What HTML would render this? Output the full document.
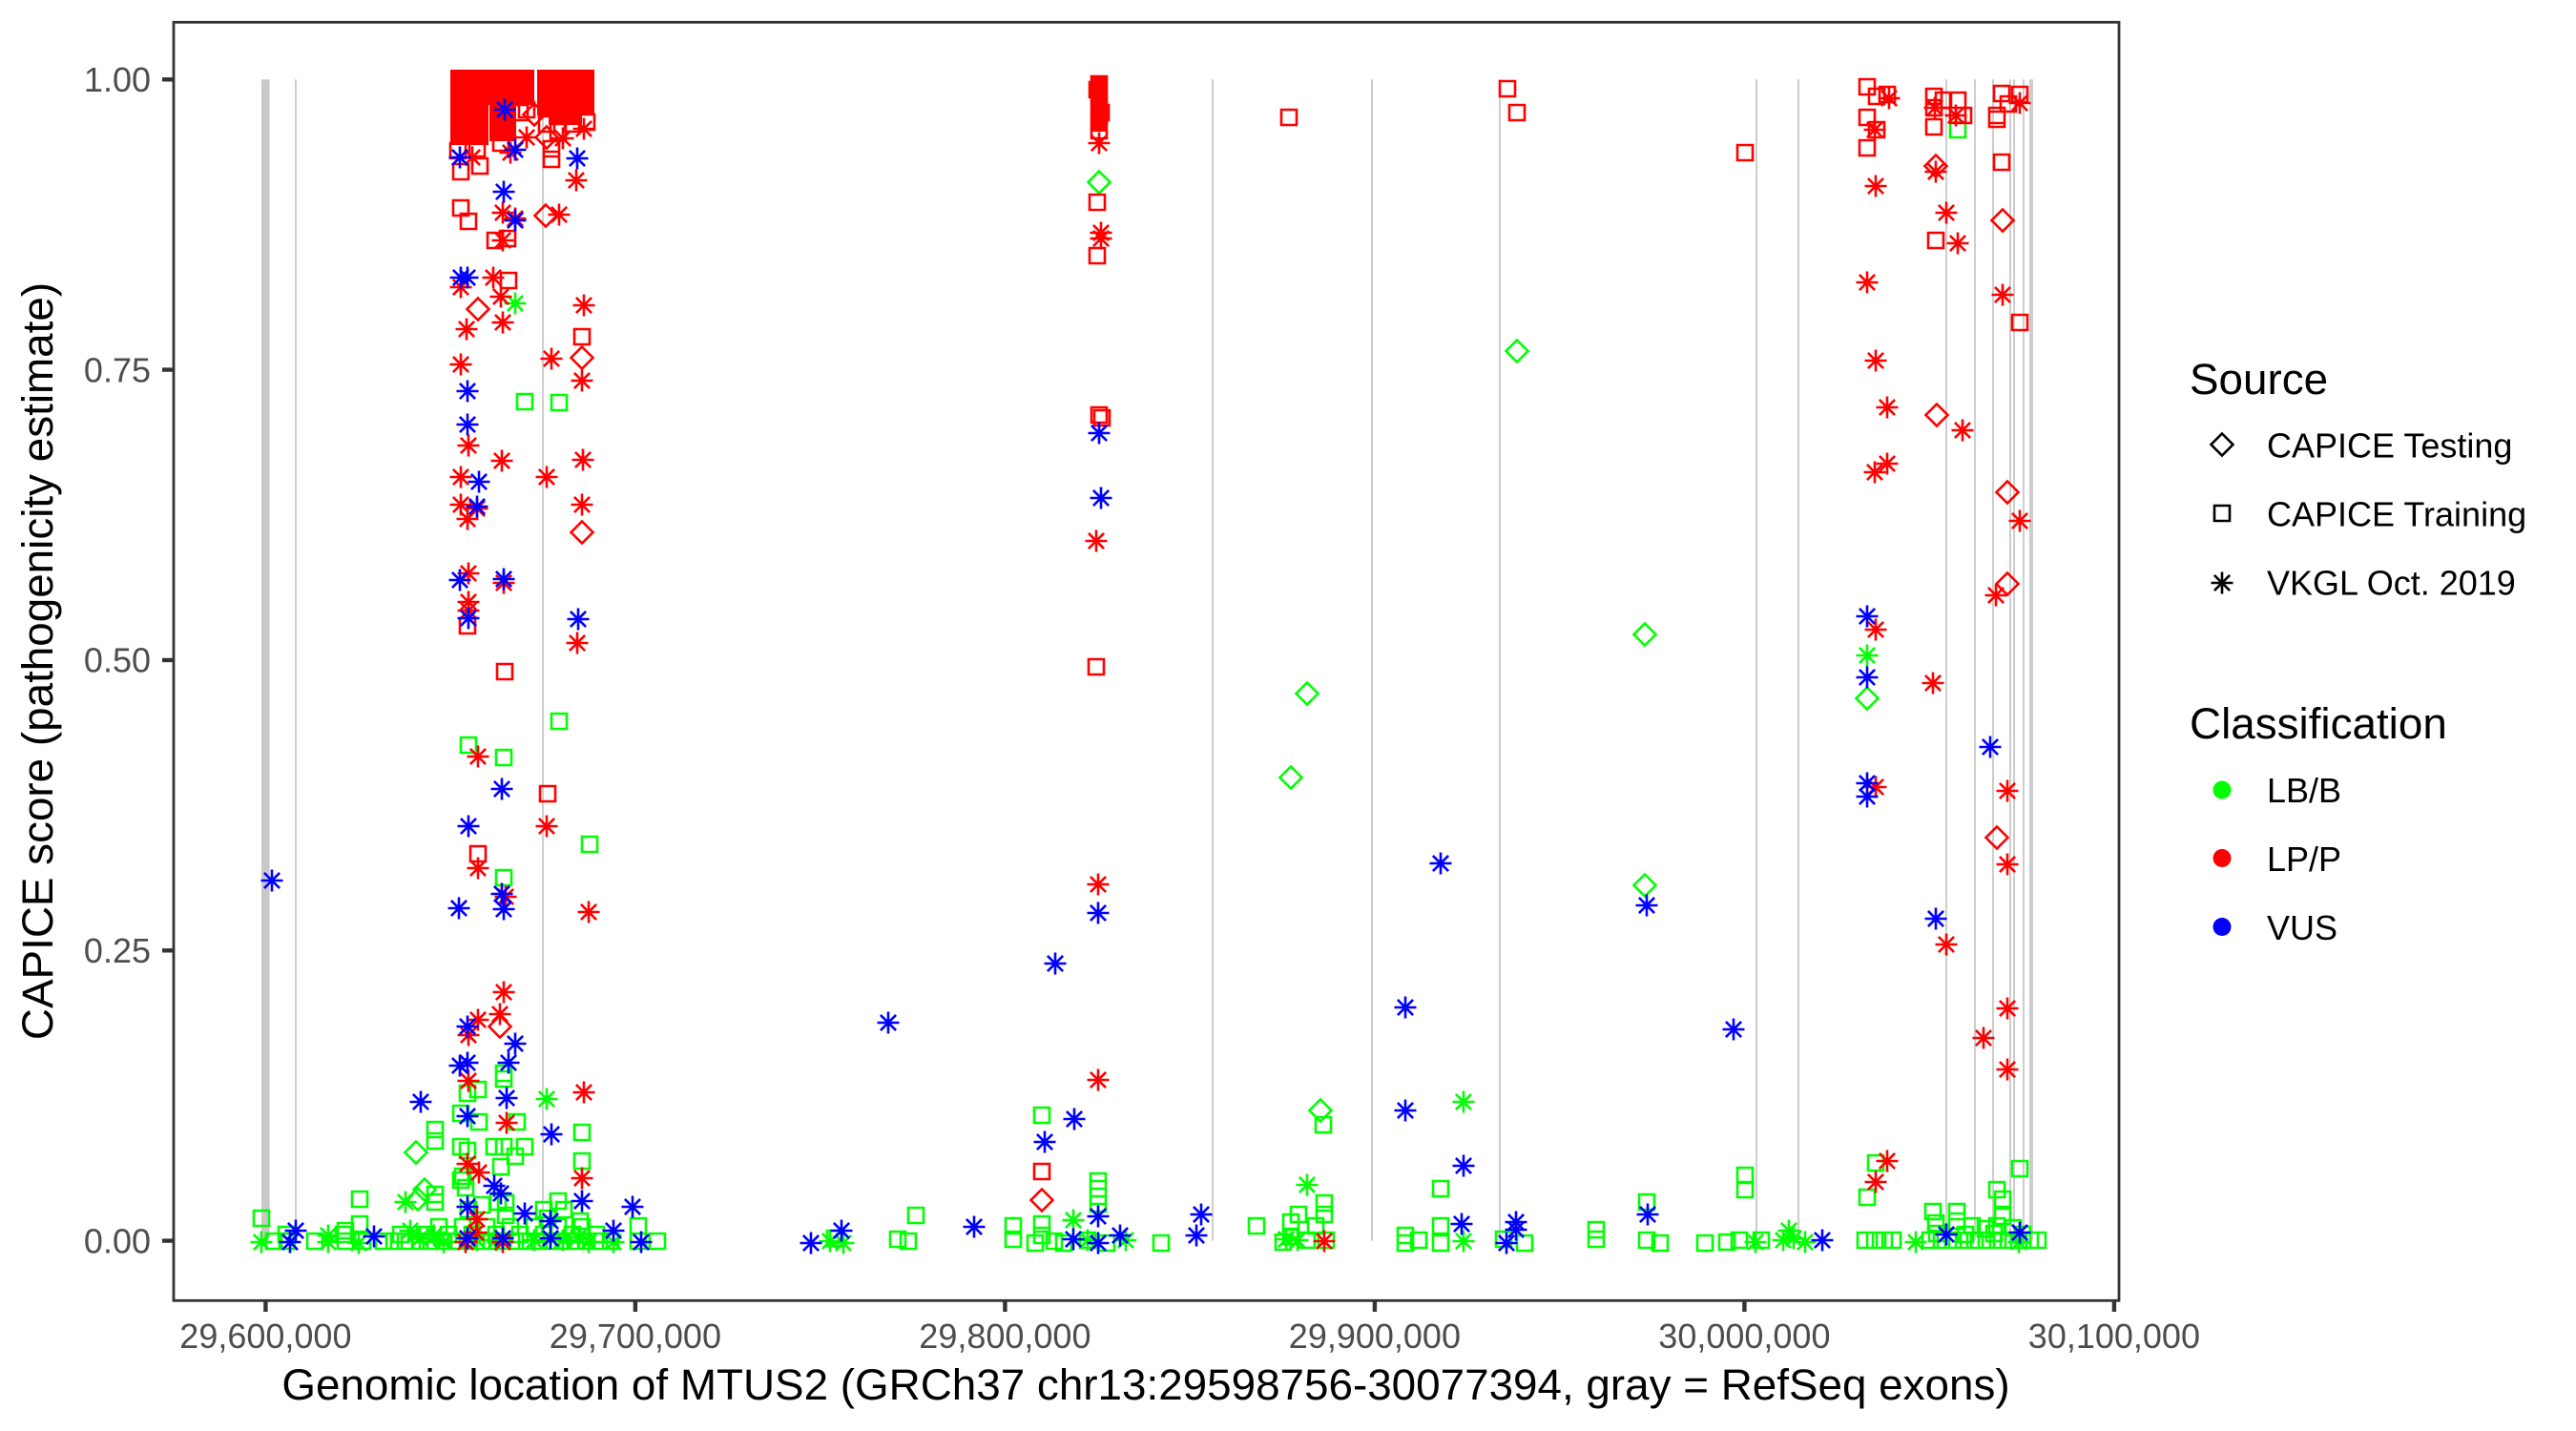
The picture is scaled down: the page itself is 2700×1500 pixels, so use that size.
<!DOCTYPE html>
<html><head><meta charset="utf-8"><style>
html,body{margin:0;padding:0;background:#fff;}
svg{display:block;}
text{font-family:"Liberation Sans",Arial,sans-serif;}
</style></head><body>
<svg xmlns="http://www.w3.org/2000/svg" width="2700" height="1500" viewBox="0 0 2700 1500">
<rect x="0" y="0" width="2700" height="1500" fill="#fff"/>
<!-- exons -->
<rect x="274" y="83.3" width="8.6" height="1217.3" fill="#c8c8c8"/>
<g stroke="#cdcdcd" stroke-width="2">
<path d="M310 83.3V1300.6M569 83.3V1300.6M1271 83.3V1300.6M1438 83.3V1300.6M1572 83.3V1300.6M1841 83.3V1300.6M1885 83.3V1300.6M2040 83.3V1300.6M2070 83.3V1300.6M2089 83.3V1300.6M2107 83.3V1300.6M2111 83.3V1300.6M2121 83.3V1300.6M2128 83.3V1300.6M2130 83.3V1300.6"/>
</g>
<g fill="none" stroke-width="2.6">
<!-- GREEN -->
<path stroke="#00ff00" d="M287 1301m-8-8h16v16h-16zM301 1301m-8-8h16v16h-16zM330 1301m-8-8h16v16h-16zM362 1301m-8-8h16v16h-16zM380 1301m-8-8h16v16h-16zM402 1301m-8-8h16v16h-16zM413 1301m-8-8h16v16h-16zM425 1301m-8-8h16v16h-16zM440 1301m-8-8h16v16h-16zM452 1301m-8-8h16v16h-16zM465 1301m-8-8h16v16h-16zM478 1301m-8-8h16v16h-16zM490 1301m-8-8h16v16h-16zM505 1301m-8-8h16v16h-16zM515 1301m-8-8h16v16h-16zM527 1301m-8-8h16v16h-16zM540 1301m-8-8h16v16h-16zM552 1301m-8-8h16v16h-16zM565 1301m-8-8h16v16h-16zM578 1301m-8-8h16v16h-16zM590 1301m-8-8h16v16h-16zM603 1301m-8-8h16v16h-16zM615 1301m-8-8h16v16h-16zM628 1301m-8-8h16v16h-16zM640 1301m-8-8h16v16h-16zM669 1301m-8-8h16v16h-16zM689 1301m-8-8h16v16h-16zM300 1294m-8-8h16v16h-16zM360 1294m-8-8h16v16h-16zM420 1294m-8-8h16v16h-16zM445 1294m-8-8h16v16h-16zM470 1294m-8-8h16v16h-16zM495 1294m-8-8h16v16h-16zM520 1294m-8-8h16v16h-16zM545 1294m-8-8h16v16h-16zM570 1294m-8-8h16v16h-16zM600 1294m-8-8h16v16h-16zM625 1294m-8-8h16v16h-16zM460 1286m-8-8h16v16h-16zM485 1286m-8-8h16v16h-16zM510 1286m-8-8h16v16h-16zM535 1286m-8-8h16v16h-16zM560 1286m-8-8h16v16h-16zM585 1286m-8-8h16v16h-16zM610 1286m-8-8h16v16h-16zM274 1277m-8-8h16v16h-16zM362 1290m-8-8h16v16h-16zM377 1283m-8-8h16v16h-16zM377 1257m-8-8h16v16h-16zM456 1252m-8-8h16v16h-16zM456 1260m-8-8h16v16h-16zM456 1184m-8-8h16v16h-16zM456 1196m-8-8h16v16h-16zM483 1202m-8-8h16v16h-16zM490 1206m-8-8h16v16h-16zM518 1202m-8-8h16v16h-16zM528 1202m-8-8h16v16h-16zM550 1202m-8-8h16v16h-16zM540 1212m-8-8h16v16h-16zM525 1223m-8-8h16v16h-16zM610 1217m-8-8h16v16h-16zM483 1237m-8-8h16v16h-16zM488 1245m-8-8h16v16h-16zM485 1233m-8-8h16v16h-16zM491 1268m-8-8h16v16h-16zM505 1263m-8-8h16v16h-16zM522 1260m-8-8h16v16h-16zM530 1261m-8-8h16v16h-16zM530 1274m-8-8h16v16h-16zM570 1268m-8-8h16v16h-16zM585 1259m-8-8h16v16h-16zM574 1277m-8-8h16v16h-16zM591 1268m-8-8h16v16h-16zM608 1280m-8-8h16v16h-16zM669 1285m-8-8h16v16h-16zM610 1187m-8-8h16v16h-16zM542 1176m-8-8h16v16h-16zM483 1167m-8-8h16v16h-16zM502 1176m-8-8h16v16h-16zM501 1142m-8-8h16v16h-16zM490 1146m-8-8h16v16h-16zM528 1125m-8-8h16v16h-16zM528 1131m-8-8h16v16h-16zM528 920m-8-8h16v16h-16zM491 781m-8-8h16v16h-16zM528 794m-8-8h16v16h-16zM586 756m-8-8h16v16h-16zM618 885m-8-8h16v16h-16zM550 421m-8-8h16v16h-16zM586 422m-8-8h16v16h-16zM875 1298m-8-8h16v16h-16zM941 1299m-8-8h16v16h-16zM952 1301m-8-8h16v16h-16zM960 1274m-8-8h16v16h-16zM1062 1285m-8-8h16v16h-16zM1062 1299m-8-8h16v16h-16zM1092 1283m-8-8h16v16h-16zM1092 1295m-8-8h16v16h-16zM1085 1303m-8-8h16v16h-16zM1105 1301m-8-8h16v16h-16zM1115 1303m-8-8h16v16h-16zM1140 1300m-8-8h16v16h-16zM1160 1303m-8-8h16v16h-16zM1092 1169m-8-8h16v16h-16zM1151 1238m-8-8h16v16h-16zM1151 1246m-8-8h16v16h-16zM1151 1254m-8-8h16v16h-16zM1151 1262m-8-8h16v16h-16zM1217 1303m-8-8h16v16h-16zM1317 1285m-8-8h16v16h-16zM1387 1179m-8-8h16v16h-16zM1353 1281m-8-8h16v16h-16zM1361 1273m-8-8h16v16h-16zM1379 1285m-8-8h16v16h-16zM1388 1261m-8-8h16v16h-16zM1388 1273m-8-8h16v16h-16zM1353 1296m-8-8h16v16h-16zM1370 1300m-8-8h16v16h-16zM1390 1300m-8-8h16v16h-16zM1345 1302m-8-8h16v16h-16zM1473 1295m-8-8h16v16h-16zM1473 1303m-8-8h16v16h-16zM1487 1300m-8-8h16v16h-16zM1510 1285m-8-8h16v16h-16zM1510 1303m-8-8h16v16h-16zM1510 1246m-8-8h16v16h-16zM1598 1303m-8-8h16v16h-16zM1576 1299m-8-8h16v16h-16zM1673 1289m-8-8h16v16h-16zM1673 1299m-8-8h16v16h-16zM1726 1260m-8-8h16v16h-16zM1726 1300m-8-8h16v16h-16zM1740 1303m-8-8h16v16h-16zM1787 1303m-8-8h16v16h-16zM1810 1302m-8-8h16v16h-16zM1823 1300m-8-8h16v16h-16zM1829 1232m-8-8h16v16h-16zM1829 1247m-8-8h16v16h-16zM1846 1300m-8-8h16v16h-16zM1957 1255m-8-8h16v16h-16zM1966 1219m-8-8h16v16h-16zM1955 1300m-8-8h16v16h-16zM1965 1300m-8-8h16v16h-16zM1975 1300m-8-8h16v16h-16zM1984 1300m-8-8h16v16h-16zM2026 1270m-8-8h16v16h-16zM2029 1282m-8-8h16v16h-16zM2051 1270m-8-8h16v16h-16zM2051 1280m-8-8h16v16h-16zM2067 1285m-8-8h16v16h-16zM2081 1288m-8-8h16v16h-16zM2093 1247m-8-8h16v16h-16zM2099 1257m-8-8h16v16h-16zM2099 1275m-8-8h16v16h-16zM2093 1285m-8-8h16v16h-16zM2110 1287m-8-8h16v16h-16zM2117 1225m-8-8h16v16h-16zM2052 136m-8-8h16v16h-16zM2023 1300m-8-8h16v16h-16zM2035 1300m-8-8h16v16h-16zM2047 1300m-8-8h16v16h-16zM2058 1300m-8-8h16v16h-16zM2070 1300m-8-8h16v16h-16zM2082 1300m-8-8h16v16h-16zM2094 1300m-8-8h16v16h-16zM2105 1300m-8-8h16v16h-16zM2116 1300m-8-8h16v16h-16zM2128 1300m-8-8h16v16h-16zM2136 1300m-8-8h16v16h-16zM2030 1293m-8-8h16v16h-16zM2060 1294m-8-8h16v16h-16zM2090 1293m-8-8h16v16h-16zM2120 1294m-8-8h16v16h-16z"/>
<path stroke="#00ff00" d="M274 1302m-11.5 0h23m-11.5-11.5v23m-8.1-19.6l16.2 16.2m0-16.2l-16.2 16.2M344 1295m-11.5 0h23m-11.5-11.5v23m-8.1-19.6l16.2 16.2m0-16.2l-16.2 16.2M344 1302m-11.5 0h23m-11.5-11.5v23m-8.1-19.6l16.2 16.2m0-16.2l-16.2 16.2M376 1303m-11.5 0h23m-11.5-11.5v23m-8.1-19.6l16.2 16.2m0-16.2l-16.2 16.2M425 1260m-11.5 0h23m-11.5-11.5v23m-8.1-19.6l16.2 16.2m0-16.2l-16.2 16.2M430 1290m-11.5 0h23m-11.5-11.5v23m-8.1-19.6l16.2 16.2m0-16.2l-16.2 16.2M440 1298m-11.5 0h23m-11.5-11.5v23m-8.1-19.6l16.2 16.2m0-16.2l-16.2 16.2M455 1295m-11.5 0h23m-11.5-11.5v23m-8.1-19.6l16.2 16.2m0-16.2l-16.2 16.2M465 1302m-11.5 0h23m-11.5-11.5v23m-8.1-19.6l16.2 16.2m0-16.2l-16.2 16.2M500 1300m-11.5 0h23m-11.5-11.5v23m-8.1-19.6l16.2 16.2m0-16.2l-16.2 16.2M520 1300m-11.5 0h23m-11.5-11.5v23m-8.1-19.6l16.2 16.2m0-16.2l-16.2 16.2M560 1300m-11.5 0h23m-11.5-11.5v23m-8.1-19.6l16.2 16.2m0-16.2l-16.2 16.2M590 1300m-11.5 0h23m-11.5-11.5v23m-8.1-19.6l16.2 16.2m0-16.2l-16.2 16.2M540 318m-11.5 0h23m-11.5-11.5v23m-8.1-19.6l16.2 16.2m0-16.2l-16.2 16.2M573 1152m-11.5 0h23m-11.5-11.5v23m-8.1-19.6l16.2 16.2m0-16.2l-16.2 16.2M606 1297m-11.5 0h23m-11.5-11.5v23m-8.1-19.6l16.2 16.2m0-16.2l-16.2 16.2M617 1302m-11.5 0h23m-11.5-11.5v23m-8.1-19.6l16.2 16.2m0-16.2l-16.2 16.2M643 1302m-11.5 0h23m-11.5-11.5v23m-8.1-19.6l16.2 16.2m0-16.2l-16.2 16.2M870 1301m-11.5 0h23m-11.5-11.5v23m-8.1-19.6l16.2 16.2m0-16.2l-16.2 16.2M884 1303m-11.5 0h23m-11.5-11.5v23m-8.1-19.6l16.2 16.2m0-16.2l-16.2 16.2M1125 1279m-11.5 0h23m-11.5-11.5v23m-8.1-19.6l16.2 16.2m0-16.2l-16.2 16.2M1140 1300m-11.5 0h23m-11.5-11.5v23m-8.1-19.6l16.2 16.2m0-16.2l-16.2 16.2M1180 1300m-11.5 0h23m-11.5-11.5v23m-8.1-19.6l16.2 16.2m0-16.2l-16.2 16.2M1370 1242m-11.5 0h23m-11.5-11.5v23m-8.1-19.6l16.2 16.2m0-16.2l-16.2 16.2M1348 1299m-11.5 0h23m-11.5-11.5v23m-8.1-19.6l16.2 16.2m0-16.2l-16.2 16.2M1360 1300m-11.5 0h23m-11.5-11.5v23m-8.1-19.6l16.2 16.2m0-16.2l-16.2 16.2M1534 1155m-11.5 0h23m-11.5-11.5v23m-8.1-19.6l16.2 16.2m0-16.2l-16.2 16.2M1534 1301m-11.5 0h23m-11.5-11.5v23m-8.1-19.6l16.2 16.2m0-16.2l-16.2 16.2M1840 1302m-11.5 0h23m-11.5-11.5v23m-8.1-19.6l16.2 16.2m0-16.2l-16.2 16.2M1869 1300m-11.5 0h23m-11.5-11.5v23m-8.1-19.6l16.2 16.2m0-16.2l-16.2 16.2M1875 1290m-11.5 0h23m-11.5-11.5v23m-8.1-19.6l16.2 16.2m0-16.2l-16.2 16.2M1880 1298m-11.5 0h23m-11.5-11.5v23m-8.1-19.6l16.2 16.2m0-16.2l-16.2 16.2M1892 1302m-11.5 0h23m-11.5-11.5v23m-8.1-19.6l16.2 16.2m0-16.2l-16.2 16.2M1957 687m-11.5 0h23m-11.5-11.5v23m-8.1-19.6l16.2 16.2m0-16.2l-16.2 16.2M2008 1302m-11.5 0h23m-11.5-11.5v23m-8.1-19.6l16.2 16.2m0-16.2l-16.2 16.2M2116 1302m-11.5 0h23m-11.5-11.5v23m-8.1-19.6l16.2 16.2m0-16.2l-16.2 16.2"/>
<path stroke="#00ff00" d="M436 1208m0-11.5l11.5 11.5-11.5 11.5-11.5-11.5zM445 1247m0-11.5l11.5 11.5-11.5 11.5-11.5-11.5zM438 1257m0-11.5l11.5 11.5-11.5 11.5-11.5-11.5zM1152 191m0-11.5l11.5 11.5-11.5 11.5-11.5-11.5zM1370 727m0-11.5l11.5 11.5-11.5 11.5-11.5-11.5zM1353 815m0-11.5l11.5 11.5-11.5 11.5-11.5-11.5zM1384 1164m0-11.5l11.5 11.5-11.5 11.5-11.5-11.5zM1590 368m0-11.5l11.5 11.5-11.5 11.5-11.5-11.5zM1724 665m0-11.5l11.5 11.5-11.5 11.5-11.5-11.5zM1724 928m0-11.5l11.5 11.5-11.5 11.5-11.5-11.5zM1957 732m0-11.5l11.5 11.5-11.5 11.5-11.5-11.5z"/>
<!-- RED -->
<g fill="#ff0000" stroke="none">
<rect x="472" y="73" width="88" height="37"/>
<rect x="563" y="73" width="60" height="48"/>
<rect x="472" y="110" width="40" height="42"/>
<rect x="513" y="110" width="28" height="38"/>
<rect x="575" y="121" width="35" height="10"/>
<rect x="1143" y="80" width="18" height="58"/>
</g>
<path stroke="#ff0000" d="M483 180m-8-8h16v16h-16zM503 174m-8-8h16v16h-16zM578 167m-8-8h16v16h-16zM578 156m-8-8h16v16h-16zM483 218m-8-8h16v16h-16zM491 232m-8-8h16v16h-16zM519 252m-8-8h16v16h-16zM532 250m-8-8h16v16h-16zM533 294m-8-8h16v16h-16zM610 353m-8-8h16v16h-16zM490 656m-8-8h16v16h-16zM529 704m-8-8h16v16h-16zM574 832m-8-8h16v16h-16zM501 895m-8-8h16v16h-16zM1150 212m-8-8h16v16h-16zM1150 268m-8-8h16v16h-16zM1152 435m-8-8h16v16h-16zM1155 438m-8-8h16v16h-16zM1149 699m-8-8h16v16h-16zM1351 123m-8-8h16v16h-16zM1580 93m-8-8h16v16h-16zM1590 118m-8-8h16v16h-16zM1829 160m-8-8h16v16h-16zM1092 1228m-8-8h16v16h-16zM1957 91m-8-8h16v16h-16zM1957 123m-8-8h16v16h-16zM1957 155m-8-8h16v16h-16zM1967 101m-8-8h16v16h-16zM1978 99m-8-8h16v16h-16zM1967 136m-8-8h16v16h-16zM2027 101m-8-8h16v16h-16zM2027 113m-8-8h16v16h-16zM2027 133m-8-8h16v16h-16zM2037 105m-8-8h16v16h-16zM2052 105m-8-8h16v16h-16zM2052 121m-8-8h16v16h-16zM2058 121m-8-8h16v16h-16zM2029 252m-8-8h16v16h-16zM2098 98m-8-8h16v16h-16zM2117 99m-8-8h16v16h-16zM2093 121m-8-8h16v16h-16zM2093 125m-8-8h16v16h-16zM2105 109m-8-8h16v16h-16zM2098 170m-8-8h16v16h-16zM2117 338m-8-8h16v16h-16zM480 158m-8-8h16v16h-16zM500 156m-8-8h16v16h-16zM525 150m-8-8h16v16h-16zM545 118m-8-8h16v16h-16zM573 130m-8-8h16v16h-16zM600 130m-8-8h16v16h-16zM615 128m-8-8h16v16h-16zM552 115m-8-8h16v16h-16zM585 138m-8-8h16v16h-16zM1152 88m-8-8h16v16h-16zM1152 100m-8-8h16v16h-16zM1152 112m-8-8h16v16h-16zM1152 125m-8-8h16v16h-16zM1152 137m-8-8h16v16h-16zM1150 94m-8-8h16v16h-16zM1154 118m-8-8h16v16h-16z"/>
<path stroke="#ff0000" d="M573 144m0-11.5l11.5 11.5-11.5 11.5-11.5-11.5zM572 226m0-11.5l11.5 11.5-11.5 11.5-11.5-11.5zM501 324m0-11.5l11.5 11.5-11.5 11.5-11.5-11.5zM610 375m0-11.5l11.5 11.5-11.5 11.5-11.5-11.5zM524 1076m0-11.5l11.5 11.5-11.5 11.5-11.5-11.5zM610 558m0-11.5l11.5 11.5-11.5 11.5-11.5-11.5zM1092 1258m0-11.5l11.5 11.5-11.5 11.5-11.5-11.5zM2029 174m0-11.5l11.5 11.5-11.5 11.5-11.5-11.5zM2099 231m0-11.5l11.5 11.5-11.5 11.5-11.5-11.5zM2030 435m0-11.5l11.5 11.5-11.5 11.5-11.5-11.5zM2093 878m0-11.5l11.5 11.5-11.5 11.5-11.5-11.5zM2104 516m0-11.5l11.5 11.5-11.5 11.5-11.5-11.5zM2104 612m0-11.5l11.5 11.5-11.5 11.5-11.5-11.5zM560 120m0-11.5l11.5 11.5-11.5 11.5-11.5-11.5z"/>
<path stroke="#ff0000" d="M552 144m-11.5 0h23m-11.5-11.5v23m-8.1-19.6l16.2 16.2m0-16.2l-16.2 16.2M604 189m-11.5 0h23m-11.5-11.5v23m-8.1-19.6l16.2 16.2m0-16.2l-16.2 16.2M527 223m-11.5 0h23m-11.5-11.5v23m-8.1-19.6l16.2 16.2m0-16.2l-16.2 16.2M540 229m-11.5 0h23m-11.5-11.5v23m-8.1-19.6l16.2 16.2m0-16.2l-16.2 16.2M586 225m-11.5 0h23m-11.5-11.5v23m-8.1-19.6l16.2 16.2m0-16.2l-16.2 16.2M527 252m-11.5 0h23m-11.5-11.5v23m-8.1-19.6l16.2 16.2m0-16.2l-16.2 16.2M483 301m-11.5 0h23m-11.5-11.5v23m-8.1-19.6l16.2 16.2m0-16.2l-16.2 16.2M517 291m-11.5 0h23m-11.5-11.5v23m-8.1-19.6l16.2 16.2m0-16.2l-16.2 16.2M525 311m-11.5 0h23m-11.5-11.5v23m-8.1-19.6l16.2 16.2m0-16.2l-16.2 16.2M527 338m-11.5 0h23m-11.5-11.5v23m-8.1-19.6l16.2 16.2m0-16.2l-16.2 16.2M612 320m-11.5 0h23m-11.5-11.5v23m-8.1-19.6l16.2 16.2m0-16.2l-16.2 16.2M489 345m-11.5 0h23m-11.5-11.5v23m-8.1-19.6l16.2 16.2m0-16.2l-16.2 16.2M578 376m-11.5 0h23m-11.5-11.5v23m-8.1-19.6l16.2 16.2m0-16.2l-16.2 16.2M610 399m-11.5 0h23m-11.5-11.5v23m-8.1-19.6l16.2 16.2m0-16.2l-16.2 16.2M483 382m-11.5 0h23m-11.5-11.5v23m-8.1-19.6l16.2 16.2m0-16.2l-16.2 16.2M491 467m-11.5 0h23m-11.5-11.5v23m-8.1-19.6l16.2 16.2m0-16.2l-16.2 16.2M526 483m-11.5 0h23m-11.5-11.5v23m-8.1-19.6l16.2 16.2m0-16.2l-16.2 16.2M573 500m-11.5 0h23m-11.5-11.5v23m-8.1-19.6l16.2 16.2m0-16.2l-16.2 16.2M611 482m-11.5 0h23m-11.5-11.5v23m-8.1-19.6l16.2 16.2m0-16.2l-16.2 16.2M483 500m-11.5 0h23m-11.5-11.5v23m-8.1-19.6l16.2 16.2m0-16.2l-16.2 16.2M483 529m-11.5 0h23m-11.5-11.5v23m-8.1-19.6l16.2 16.2m0-16.2l-16.2 16.2M490 544m-11.5 0h23m-11.5-11.5v23m-8.1-19.6l16.2 16.2m0-16.2l-16.2 16.2M500 533m-11.5 0h23m-11.5-11.5v23m-8.1-19.6l16.2 16.2m0-16.2l-16.2 16.2M610 529m-11.5 0h23m-11.5-11.5v23m-8.1-19.6l16.2 16.2m0-16.2l-16.2 16.2M491 601m-11.5 0h23m-11.5-11.5v23m-8.1-19.6l16.2 16.2m0-16.2l-16.2 16.2M528 611m-11.5 0h23m-11.5-11.5v23m-8.1-19.6l16.2 16.2m0-16.2l-16.2 16.2M491 631m-11.5 0h23m-11.5-11.5v23m-8.1-19.6l16.2 16.2m0-16.2l-16.2 16.2M491 640m-11.5 0h23m-11.5-11.5v23m-8.1-19.6l16.2 16.2m0-16.2l-16.2 16.2M605 674m-11.5 0h23m-11.5-11.5v23m-8.1-19.6l16.2 16.2m0-16.2l-16.2 16.2M501 793m-11.5 0h23m-11.5-11.5v23m-8.1-19.6l16.2 16.2m0-16.2l-16.2 16.2M573 866m-11.5 0h23m-11.5-11.5v23m-8.1-19.6l16.2 16.2m0-16.2l-16.2 16.2M501 910m-11.5 0h23m-11.5-11.5v23m-8.1-19.6l16.2 16.2m0-16.2l-16.2 16.2M530 940m-11.5 0h23m-11.5-11.5v23m-8.1-19.6l16.2 16.2m0-16.2l-16.2 16.2M617 956m-11.5 0h23m-11.5-11.5v23m-8.1-19.6l16.2 16.2m0-16.2l-16.2 16.2M528 1040m-11.5 0h23m-11.5-11.5v23m-8.1-19.6l16.2 16.2m0-16.2l-16.2 16.2M524 1063m-11.5 0h23m-11.5-11.5v23m-8.1-19.6l16.2 16.2m0-16.2l-16.2 16.2M501 1069m-11.5 0h23m-11.5-11.5v23m-8.1-19.6l16.2 16.2m0-16.2l-16.2 16.2M491 1085m-11.5 0h23m-11.5-11.5v23m-8.1-19.6l16.2 16.2m0-16.2l-16.2 16.2M491 1133m-11.5 0h23m-11.5-11.5v23m-8.1-19.6l16.2 16.2m0-16.2l-16.2 16.2M612 1145m-11.5 0h23m-11.5-11.5v23m-8.1-19.6l16.2 16.2m0-16.2l-16.2 16.2M531 1177m-11.5 0h23m-11.5-11.5v23m-8.1-19.6l16.2 16.2m0-16.2l-16.2 16.2M490 1220m-11.5 0h23m-11.5-11.5v23m-8.1-19.6l16.2 16.2m0-16.2l-16.2 16.2M502 1229m-11.5 0h23m-11.5-11.5v23m-8.1-19.6l16.2 16.2m0-16.2l-16.2 16.2M610 1235m-11.5 0h23m-11.5-11.5v23m-8.1-19.6l16.2 16.2m0-16.2l-16.2 16.2M500 1278m-11.5 0h23m-11.5-11.5v23m-8.1-19.6l16.2 16.2m0-16.2l-16.2 16.2M499 1292m-11.5 0h23m-11.5-11.5v23m-8.1-19.6l16.2 16.2m0-16.2l-16.2 16.2M488 1302m-11.5 0h23m-11.5-11.5v23m-8.1-19.6l16.2 16.2m0-16.2l-16.2 16.2M527 1302m-11.5 0h23m-11.5-11.5v23m-8.1-19.6l16.2 16.2m0-16.2l-16.2 16.2M495 165m-11.5 0h23m-11.5-11.5v23m-8.1-19.6l16.2 16.2m0-16.2l-16.2 16.2M535 160m-11.5 0h23m-11.5-11.5v23m-8.1-19.6l16.2 16.2m0-16.2l-16.2 16.2M590 145m-11.5 0h23m-11.5-11.5v23m-8.1-19.6l16.2 16.2m0-16.2l-16.2 16.2M612 135m-11.5 0h23m-11.5-11.5v23m-8.1-19.6l16.2 16.2m0-16.2l-16.2 16.2M1152 150m-11.5 0h23m-11.5-11.5v23m-8.1-19.6l16.2 16.2m0-16.2l-16.2 16.2M1154 244m-11.5 0h23m-11.5-11.5v23m-8.1-19.6l16.2 16.2m0-16.2l-16.2 16.2M1154 250m-11.5 0h23m-11.5-11.5v23m-8.1-19.6l16.2 16.2m0-16.2l-16.2 16.2M1149 567m-11.5 0h23m-11.5-11.5v23m-8.1-19.6l16.2 16.2m0-16.2l-16.2 16.2M1151 927m-11.5 0h23m-11.5-11.5v23m-8.1-19.6l16.2 16.2m0-16.2l-16.2 16.2M1151 1132m-11.5 0h23m-11.5-11.5v23m-8.1-19.6l16.2 16.2m0-16.2l-16.2 16.2M1388 1301m-11.5 0h23m-11.5-11.5v23m-8.1-19.6l16.2 16.2m0-16.2l-16.2 16.2M1980 103m-11.5 0h23m-11.5-11.5v23m-8.1-19.6l16.2 16.2m0-16.2l-16.2 16.2M1965 136m-11.5 0h23m-11.5-11.5v23m-8.1-19.6l16.2 16.2m0-16.2l-16.2 16.2M1966 195m-11.5 0h23m-11.5-11.5v23m-8.1-19.6l16.2 16.2m0-16.2l-16.2 16.2M1957 296m-11.5 0h23m-11.5-11.5v23m-8.1-19.6l16.2 16.2m0-16.2l-16.2 16.2M1966 378m-11.5 0h23m-11.5-11.5v23m-8.1-19.6l16.2 16.2m0-16.2l-16.2 16.2M1978 427m-11.5 0h23m-11.5-11.5v23m-8.1-19.6l16.2 16.2m0-16.2l-16.2 16.2M1965 495m-11.5 0h23m-11.5-11.5v23m-8.1-19.6l16.2 16.2m0-16.2l-16.2 16.2M1978 486m-11.5 0h23m-11.5-11.5v23m-8.1-19.6l16.2 16.2m0-16.2l-16.2 16.2M1966 660m-11.5 0h23m-11.5-11.5v23m-8.1-19.6l16.2 16.2m0-16.2l-16.2 16.2M2028 113m-11.5 0h23m-11.5-11.5v23m-8.1-19.6l16.2 16.2m0-16.2l-16.2 16.2M2050 121m-11.5 0h23m-11.5-11.5v23m-8.1-19.6l16.2 16.2m0-16.2l-16.2 16.2M2029 180m-11.5 0h23m-11.5-11.5v23m-8.1-19.6l16.2 16.2m0-16.2l-16.2 16.2M2040 223m-11.5 0h23m-11.5-11.5v23m-8.1-19.6l16.2 16.2m0-16.2l-16.2 16.2M2052 255m-11.5 0h23m-11.5-11.5v23m-8.1-19.6l16.2 16.2m0-16.2l-16.2 16.2M2057 451m-11.5 0h23m-11.5-11.5v23m-8.1-19.6l16.2 16.2m0-16.2l-16.2 16.2M2117 108m-11.5 0h23m-11.5-11.5v23m-8.1-19.6l16.2 16.2m0-16.2l-16.2 16.2M2099 309m-11.5 0h23m-11.5-11.5v23m-8.1-19.6l16.2 16.2m0-16.2l-16.2 16.2M2117 546m-11.5 0h23m-11.5-11.5v23m-8.1-19.6l16.2 16.2m0-16.2l-16.2 16.2M2092 624m-11.5 0h23m-11.5-11.5v23m-8.1-19.6l16.2 16.2m0-16.2l-16.2 16.2M2026 716m-11.5 0h23m-11.5-11.5v23m-8.1-19.6l16.2 16.2m0-16.2l-16.2 16.2M1966 825m-11.5 0h23m-11.5-11.5v23m-8.1-19.6l16.2 16.2m0-16.2l-16.2 16.2M2104 829m-11.5 0h23m-11.5-11.5v23m-8.1-19.6l16.2 16.2m0-16.2l-16.2 16.2M2104 906m-11.5 0h23m-11.5-11.5v23m-8.1-19.6l16.2 16.2m0-16.2l-16.2 16.2M2040 990m-11.5 0h23m-11.5-11.5v23m-8.1-19.6l16.2 16.2m0-16.2l-16.2 16.2M2104 1057m-11.5 0h23m-11.5-11.5v23m-8.1-19.6l16.2 16.2m0-16.2l-16.2 16.2M2079 1088m-11.5 0h23m-11.5-11.5v23m-8.1-19.6l16.2 16.2m0-16.2l-16.2 16.2M2104 1121m-11.5 0h23m-11.5-11.5v23m-8.1-19.6l16.2 16.2m0-16.2l-16.2 16.2M1978 1217m-11.5 0h23m-11.5-11.5v23m-8.1-19.6l16.2 16.2m0-16.2l-16.2 16.2M1966 1239m-11.5 0h23m-11.5-11.5v23m-8.1-19.6l16.2 16.2m0-16.2l-16.2 16.2"/>
<!-- BLUE -->
<path stroke="#0000ff" d="M285 923m-11.5 0h23m-11.5-11.5v23m-8.1-19.6l16.2 16.2m0-16.2l-16.2 16.2M304 1302m-11.5 0h23m-11.5-11.5v23m-8.1-19.6l16.2 16.2m0-16.2l-16.2 16.2M310 1290m-11.5 0h23m-11.5-11.5v23m-8.1-19.6l16.2 16.2m0-16.2l-16.2 16.2M392 1296m-11.5 0h23m-11.5-11.5v23m-8.1-19.6l16.2 16.2m0-16.2l-16.2 16.2M441 1155m-11.5 0h23m-11.5-11.5v23m-8.1-19.6l16.2 16.2m0-16.2l-16.2 16.2M482 165m-11.5 0h23m-11.5-11.5v23m-8.1-19.6l16.2 16.2m0-16.2l-16.2 16.2M605 166m-11.5 0h23m-11.5-11.5v23m-8.1-19.6l16.2 16.2m0-16.2l-16.2 16.2M540 157m-11.5 0h23m-11.5-11.5v23m-8.1-19.6l16.2 16.2m0-16.2l-16.2 16.2M529 115m-11.5 0h23m-11.5-11.5v23m-8.1-19.6l16.2 16.2m0-16.2l-16.2 16.2M528 201m-11.5 0h23m-11.5-11.5v23m-8.1-19.6l16.2 16.2m0-16.2l-16.2 16.2M540 231m-11.5 0h23m-11.5-11.5v23m-8.1-19.6l16.2 16.2m0-16.2l-16.2 16.2M483 291m-11.5 0h23m-11.5-11.5v23m-8.1-19.6l16.2 16.2m0-16.2l-16.2 16.2M490 291m-11.5 0h23m-11.5-11.5v23m-8.1-19.6l16.2 16.2m0-16.2l-16.2 16.2M490 410m-11.5 0h23m-11.5-11.5v23m-8.1-19.6l16.2 16.2m0-16.2l-16.2 16.2M490 445m-11.5 0h23m-11.5-11.5v23m-8.1-19.6l16.2 16.2m0-16.2l-16.2 16.2M502 505m-11.5 0h23m-11.5-11.5v23m-8.1-19.6l16.2 16.2m0-16.2l-16.2 16.2M500 531m-11.5 0h23m-11.5-11.5v23m-8.1-19.6l16.2 16.2m0-16.2l-16.2 16.2M482 608m-11.5 0h23m-11.5-11.5v23m-8.1-19.6l16.2 16.2m0-16.2l-16.2 16.2M528 607m-11.5 0h23m-11.5-11.5v23m-8.1-19.6l16.2 16.2m0-16.2l-16.2 16.2M491 648m-11.5 0h23m-11.5-11.5v23m-8.1-19.6l16.2 16.2m0-16.2l-16.2 16.2M606 649m-11.5 0h23m-11.5-11.5v23m-8.1-19.6l16.2 16.2m0-16.2l-16.2 16.2M526 827m-11.5 0h23m-11.5-11.5v23m-8.1-19.6l16.2 16.2m0-16.2l-16.2 16.2M491 866m-11.5 0h23m-11.5-11.5v23m-8.1-19.6l16.2 16.2m0-16.2l-16.2 16.2M526 937m-11.5 0h23m-11.5-11.5v23m-8.1-19.6l16.2 16.2m0-16.2l-16.2 16.2M528 953m-11.5 0h23m-11.5-11.5v23m-8.1-19.6l16.2 16.2m0-16.2l-16.2 16.2M481 952m-11.5 0h23m-11.5-11.5v23m-8.1-19.6l16.2 16.2m0-16.2l-16.2 16.2M490 1076m-11.5 0h23m-11.5-11.5v23m-8.1-19.6l16.2 16.2m0-16.2l-16.2 16.2M540 1094m-11.5 0h23m-11.5-11.5v23m-8.1-19.6l16.2 16.2m0-16.2l-16.2 16.2M482 1117m-11.5 0h23m-11.5-11.5v23m-8.1-19.6l16.2 16.2m0-16.2l-16.2 16.2M490 1114m-11.5 0h23m-11.5-11.5v23m-8.1-19.6l16.2 16.2m0-16.2l-16.2 16.2M533 1114m-11.5 0h23m-11.5-11.5v23m-8.1-19.6l16.2 16.2m0-16.2l-16.2 16.2M531 1151m-11.5 0h23m-11.5-11.5v23m-8.1-19.6l16.2 16.2m0-16.2l-16.2 16.2M490 1170m-11.5 0h23m-11.5-11.5v23m-8.1-19.6l16.2 16.2m0-16.2l-16.2 16.2M578 1189m-11.5 0h23m-11.5-11.5v23m-8.1-19.6l16.2 16.2m0-16.2l-16.2 16.2M518 1243m-11.5 0h23m-11.5-11.5v23m-8.1-19.6l16.2 16.2m0-16.2l-16.2 16.2M525 1251m-11.5 0h23m-11.5-11.5v23m-8.1-19.6l16.2 16.2m0-16.2l-16.2 16.2M610 1259m-11.5 0h23m-11.5-11.5v23m-8.1-19.6l16.2 16.2m0-16.2l-16.2 16.2M490 1265m-11.5 0h23m-11.5-11.5v23m-8.1-19.6l16.2 16.2m0-16.2l-16.2 16.2M550 1272m-11.5 0h23m-11.5-11.5v23m-8.1-19.6l16.2 16.2m0-16.2l-16.2 16.2M577 1280m-11.5 0h23m-11.5-11.5v23m-8.1-19.6l16.2 16.2m0-16.2l-16.2 16.2M490 1298m-11.5 0h23m-11.5-11.5v23m-8.1-19.6l16.2 16.2m0-16.2l-16.2 16.2M527 1298m-11.5 0h23m-11.5-11.5v23m-8.1-19.6l16.2 16.2m0-16.2l-16.2 16.2M577 1298m-11.5 0h23m-11.5-11.5v23m-8.1-19.6l16.2 16.2m0-16.2l-16.2 16.2M643 1290m-11.5 0h23m-11.5-11.5v23m-8.1-19.6l16.2 16.2m0-16.2l-16.2 16.2M663 1265m-11.5 0h23m-11.5-11.5v23m-8.1-19.6l16.2 16.2m0-16.2l-16.2 16.2M672 1302m-11.5 0h23m-11.5-11.5v23m-8.1-19.6l16.2 16.2m0-16.2l-16.2 16.2M850 1303m-11.5 0h23m-11.5-11.5v23m-8.1-19.6l16.2 16.2m0-16.2l-16.2 16.2M882 1290m-11.5 0h23m-11.5-11.5v23m-8.1-19.6l16.2 16.2m0-16.2l-16.2 16.2M931 1072m-11.5 0h23m-11.5-11.5v23m-8.1-19.6l16.2 16.2m0-16.2l-16.2 16.2M1021 1286m-11.5 0h23m-11.5-11.5v23m-8.1-19.6l16.2 16.2m0-16.2l-16.2 16.2M1152 454m-11.5 0h23m-11.5-11.5v23m-8.1-19.6l16.2 16.2m0-16.2l-16.2 16.2M1154 522m-11.5 0h23m-11.5-11.5v23m-8.1-19.6l16.2 16.2m0-16.2l-16.2 16.2M1151 957m-11.5 0h23m-11.5-11.5v23m-8.1-19.6l16.2 16.2m0-16.2l-16.2 16.2M1106 1010m-11.5 0h23m-11.5-11.5v23m-8.1-19.6l16.2 16.2m0-16.2l-16.2 16.2M1126 1173m-11.5 0h23m-11.5-11.5v23m-8.1-19.6l16.2 16.2m0-16.2l-16.2 16.2M1095 1197m-11.5 0h23m-11.5-11.5v23m-8.1-19.6l16.2 16.2m0-16.2l-16.2 16.2M1151 1275m-11.5 0h23m-11.5-11.5v23m-8.1-19.6l16.2 16.2m0-16.2l-16.2 16.2M1174 1295m-11.5 0h23m-11.5-11.5v23m-8.1-19.6l16.2 16.2m0-16.2l-16.2 16.2M1125 1299m-11.5 0h23m-11.5-11.5v23m-8.1-19.6l16.2 16.2m0-16.2l-16.2 16.2M1151 1303m-11.5 0h23m-11.5-11.5v23m-8.1-19.6l16.2 16.2m0-16.2l-16.2 16.2M1259 1273m-11.5 0h23m-11.5-11.5v23m-8.1-19.6l16.2 16.2m0-16.2l-16.2 16.2M1254 1295m-11.5 0h23m-11.5-11.5v23m-8.1-19.6l16.2 16.2m0-16.2l-16.2 16.2M1510 905m-11.5 0h23m-11.5-11.5v23m-8.1-19.6l16.2 16.2m0-16.2l-16.2 16.2M1473 1056m-11.5 0h23m-11.5-11.5v23m-8.1-19.6l16.2 16.2m0-16.2l-16.2 16.2M1473 1164m-11.5 0h23m-11.5-11.5v23m-8.1-19.6l16.2 16.2m0-16.2l-16.2 16.2M1534 1222m-11.5 0h23m-11.5-11.5v23m-8.1-19.6l16.2 16.2m0-16.2l-16.2 16.2M1532 1283m-11.5 0h23m-11.5-11.5v23m-8.1-19.6l16.2 16.2m0-16.2l-16.2 16.2M1589 1281m-11.5 0h23m-11.5-11.5v23m-8.1-19.6l16.2 16.2m0-16.2l-16.2 16.2M1589 1289m-11.5 0h23m-11.5-11.5v23m-8.1-19.6l16.2 16.2m0-16.2l-16.2 16.2M1579 1303m-11.5 0h23m-11.5-11.5v23m-8.1-19.6l16.2 16.2m0-16.2l-16.2 16.2M1726 949m-11.5 0h23m-11.5-11.5v23m-8.1-19.6l16.2 16.2m0-16.2l-16.2 16.2M1727 1273m-11.5 0h23m-11.5-11.5v23m-8.1-19.6l16.2 16.2m0-16.2l-16.2 16.2M1817 1079m-11.5 0h23m-11.5-11.5v23m-8.1-19.6l16.2 16.2m0-16.2l-16.2 16.2M1910 1300m-11.5 0h23m-11.5-11.5v23m-8.1-19.6l16.2 16.2m0-16.2l-16.2 16.2M1957 646m-11.5 0h23m-11.5-11.5v23m-8.1-19.6l16.2 16.2m0-16.2l-16.2 16.2M1957 710m-11.5 0h23m-11.5-11.5v23m-8.1-19.6l16.2 16.2m0-16.2l-16.2 16.2M1957 821m-11.5 0h23m-11.5-11.5v23m-8.1-19.6l16.2 16.2m0-16.2l-16.2 16.2M1957 835m-11.5 0h23m-11.5-11.5v23m-8.1-19.6l16.2 16.2m0-16.2l-16.2 16.2M2086 783m-11.5 0h23m-11.5-11.5v23m-8.1-19.6l16.2 16.2m0-16.2l-16.2 16.2M2029 963m-11.5 0h23m-11.5-11.5v23m-8.1-19.6l16.2 16.2m0-16.2l-16.2 16.2M2040 1294m-11.5 0h23m-11.5-11.5v23m-8.1-19.6l16.2 16.2m0-16.2l-16.2 16.2M2117 1292m-11.5 0h23m-11.5-11.5v23m-8.1-19.6l16.2 16.2m0-16.2l-16.2 16.2"/>
</g>
<!-- panel border & ticks -->
<rect x="182" y="23.3" width="2039" height="1340" fill="none" stroke="#333" stroke-width="2.8"/>
<g stroke="#333" stroke-width="4.4">
<path d="M170 83.3H182M170 387.6H182M170 691.9H182M170 996.3H182M170 1300.6H182"/>
<path d="M278.4 1363V1375M665.9 1363V1375M1053.4 1363V1375M1440.9 1363V1375M1828.4 1363V1375M2215.9 1363V1375"/>
</g>
<g font-size="36" fill="#4d4d4d" text-anchor="end">
<text x="158" y="96">1.00</text>
<text x="158" y="400.3">0.75</text>
<text x="158" y="704.6">0.50</text>
<text x="158" y="1009">0.25</text>
<text x="158" y="1313.3">0.00</text>
</g>
<g font-size="36" fill="#4d4d4d" text-anchor="middle">
<text x="278.4" y="1413">29,600,000</text>
<text x="665.9" y="1413">29,700,000</text>
<text x="1053.4" y="1413">29,800,000</text>
<text x="1440.9" y="1413">29,900,000</text>
<text x="1828.4" y="1413">30,000,000</text>
<text x="2215.9" y="1413">30,100,000</text>
</g>
<text x="1201" y="1467" font-size="45.8" text-anchor="middle" fill="#000">Genomic location of MTUS2 (GRCh37 chr13:29598756-30077394, gray = RefSeq exons)</text>
<text transform="translate(55,693) rotate(-90)" font-size="45.8" text-anchor="middle" fill="#000">CAPICE score (pathogenicity estimate)</text>
<!-- legend -->
<text x="2295" y="413" font-size="45.8" fill="#000">Source</text>
<g fill="none" stroke="#000" stroke-width="2.6">
<path d="M2329 466m0-11.5l11.5 11.5-11.5 11.5-11.5-11.5z"/>
<path d="M2329 538m-8-8h16v16h-16z"/>
<path d="M2329 611m-11.5 0h23m-11.5-11.5v23m-8.1-19.6l16.2 16.2m0-16.2l-16.2 16.2"/>
</g>
<g font-size="36" fill="#000">
<text x="2376" y="479.6">CAPICE Testing</text>
<text x="2376" y="551.6">CAPICE Training</text>
<text x="2376" y="623.6">VKGL Oct. 2019</text>
</g>
<text x="2295" y="774" font-size="45.8" fill="#000">Classification</text>
<circle cx="2329" cy="828" r="9.5" fill="#00ff00"/>
<circle cx="2329" cy="899.5" r="9.5" fill="#ff0000"/>
<circle cx="2329" cy="971.5" r="9.5" fill="#0000ff"/>
<g font-size="36" fill="#000">
<text x="2376" y="841">LB/B</text>
<text x="2376" y="913">LP/P</text>
<text x="2376" y="985">VUS</text>
</g>
</svg>
</body></html>
